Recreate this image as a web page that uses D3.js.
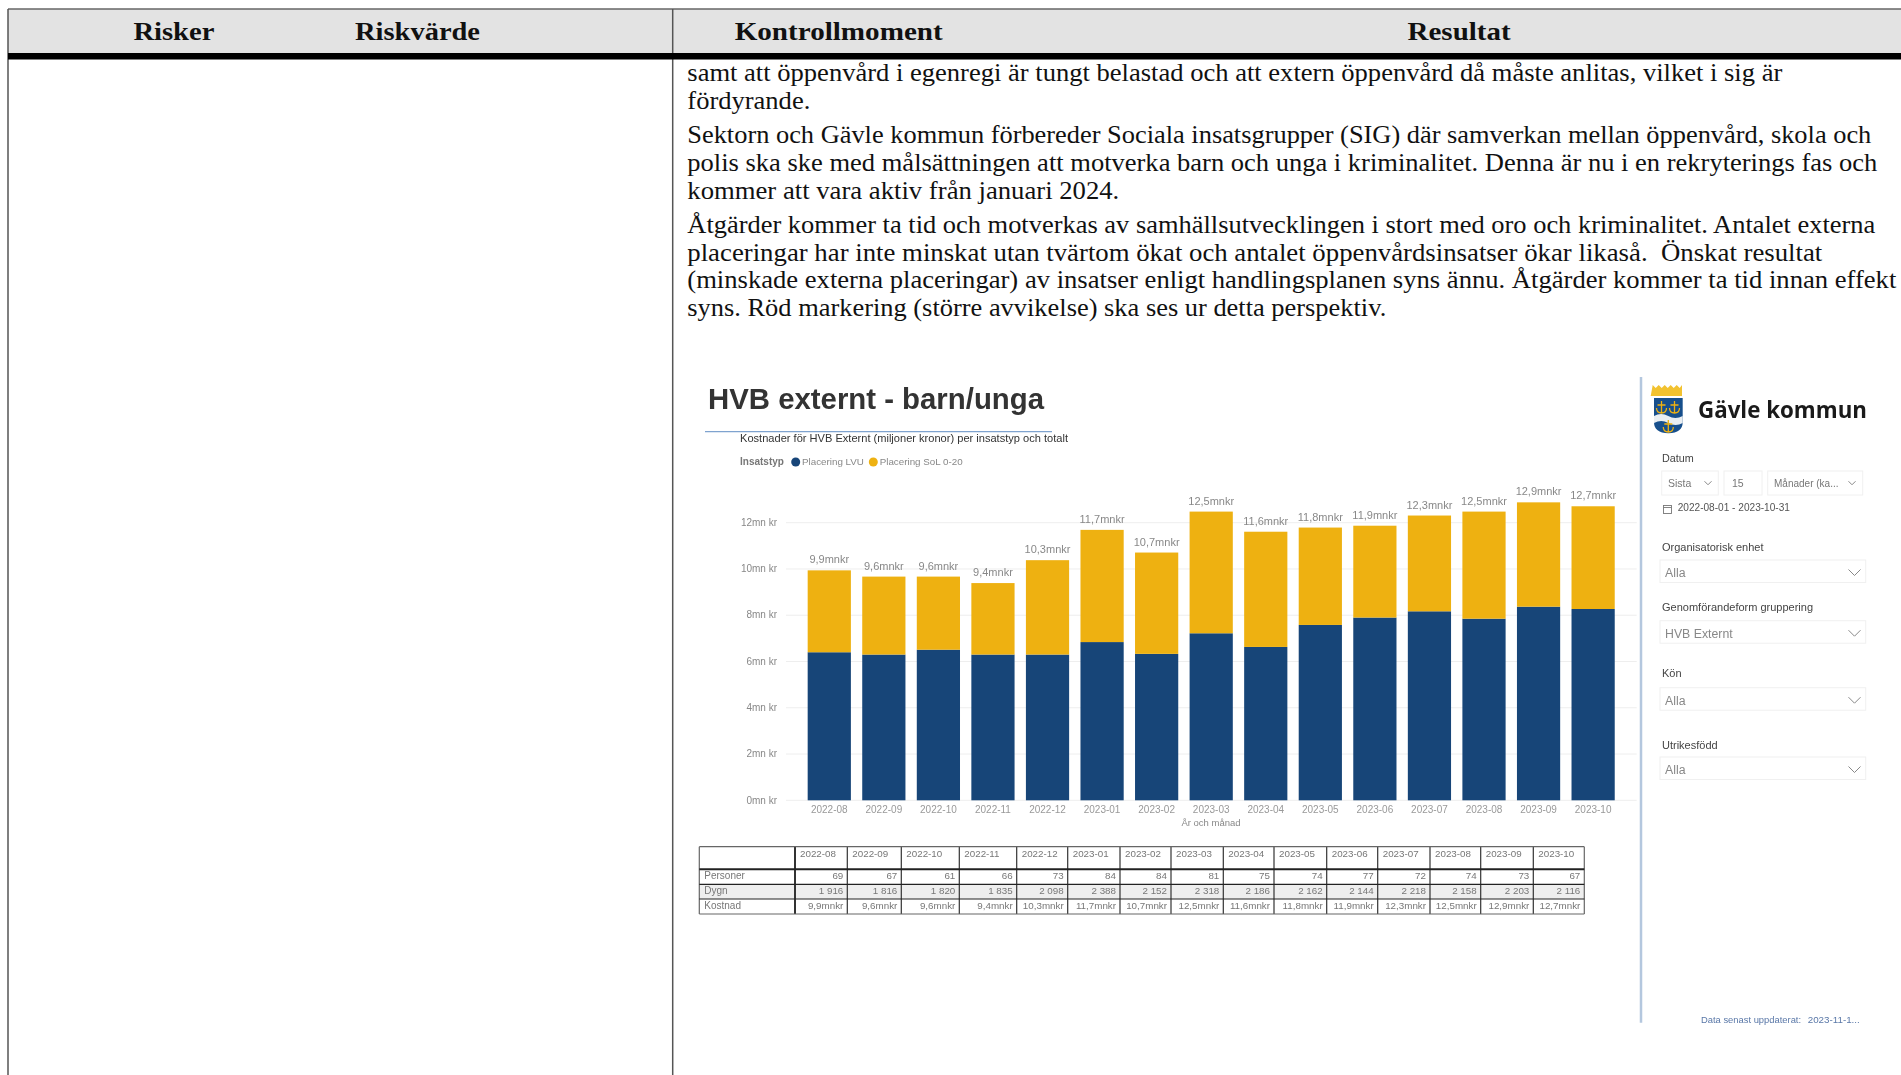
<!DOCTYPE html>
<html lang="sv">
<head>
<meta charset="utf-8">
<title>HVB externt - barn/unga</title>
<script src="https://d3js.org/d3.v7.min.js"></script>
<style>
  html, body { margin: 0; background: #fff; overflow: hidden; }
  svg { display: block; }
  text { white-space: pre; }
  .doc { font-family: "Liberation Serif", serif; fill: #111; }
  .embed text { font-family: "Liberation Sans", Arial, sans-serif; }
  .embed { filter: blur(0.65px); }
  .axis path { display: none; }
</style>
</head>
<body>
<div id="chart-area"></div>
<script>
// chart values
const months = ["2022-08", "2022-09", "2022-10", "2022-11", "2022-12", "2023-01", "2023-02", "2023-03",
    "2023-04", "2023-05", "2023-06", "2023-07", "2023-08", "2023-09", "2023-10"];
const placeringLVU = [6.40, 6.30, 6.51, 6.30, 6.30, 6.84, 6.33, 7.22, 6.63, 7.58, 7.90, 8.17, 7.85, 8.37, 8.27];
const placeringSoL = [3.54, 3.37, 3.16, 3.09, 4.08, 4.85, 4.38, 5.26, 4.98, 4.21, 3.97, 4.14, 4.63, 4.51, 4.44];
const kostnad = ["9,9mnkr", "9,6mnkr", "9,6mnkr", "9,4mnkr", "10,3mnkr", "11,7mnkr", "10,7mnkr", "12,5mnkr",
    "11,6mnkr", "11,8mnkr", "11,9mnkr", "12,3mnkr", "12,5mnkr", "12,9mnkr", "12,7mnkr"];
const personer = ["69", "67", "61", "66", "73", "84", "84", "81", "75", "74", "77", "72", "74", "73", "67"];
const dygn = ["1 916", "1 816", "1 820", "1 835", "2 098", "2 388", "2 152", "2 318", "2 186", "2 162",
    "2 144", "2 218", "2 158", "2 203", "2 116"];
const yTicks = [0, 2, 4, 6, 8, 10, 12];

// document text around the chart
const headers = ["Risker", "Riskvärde", "Kontrollmoment", "Resultat"];
const bodyLines = [
    "samt att öppenvård i egenregi är tungt belastad och att extern öppenvård då måste anlitas, vilket i sig är",
    "fördyrande.",
    "Sektorn och Gävle kommun förbereder Sociala insatsgrupper (SIG) där samverkan mellan öppenvård, skola och",
    "polis ska ske med målsättningen att motverka barn och unga i kriminalitet. Denna är nu i en rekryterings fas och",
    "kommer att vara aktiv från januari 2024.",
    "Åtgärder kommer ta tid och motverkas av samhällsutvecklingen i stort med oro och kriminalitet. Antalet externa",
    "placeringar har inte minskat utan tvärtom ökat och antalet öppenvårdsinsatser ökar likaså.  Önskat resultat",
    "(minskade externa placeringar) av insatser enligt handlingsplanen syns ännu. Åtgärder kommer ta tid innan effekt",
    "syns. Röd markering (större avvikelse) ska ses ur detta perspektiv."
];
const filterLabels = ["Organisatorisk enhet", "Genomförandeform gruppering", "Kön", "Utrikesfödd"];
const filterValues = ["Alla", "HVB Externt", "Alla", "Alla"];

// layout, separate from the values
const headerX = [133.4, 355, 734.7, 1407.6];
const headerW = [81, 125, 208, 103];
const bodyBase = [80.7, 109.3, 143.3, 170.7, 198.5, 233.3, 260.7, 288.3, 316];
const bodyW = [1095, 123, 1184, 1190, 432, 1188, 1135, 1209, 699];
const tableEdges = [699.3, 795, 847.3, 901.3, 959.3, 1016.7, 1067.7, 1120, 1171, 1223.3, 1274, 1326.7, 1377.7, 1430, 1480.7, 1533.3, 1584.3];
const filterTop = [560, 620.7, 687.7, 757];
const filterBase = [550.5, 611, 677.3, 748.8];

const svg = d3.select("#chart-area").append("svg")
    .attr("width", 1901)
    .attr("height", 1075);

svg.append("rect").attr("width", 1901).attr("height", 1075).attr("fill", "#fff");

/* the document table the picture sits in */
svg.append("rect").attr("x", 8).attr("y", 9).attr("width", 1893).attr("height", 44).attr("fill", "#e3e3e3");
svg.append("line").attr("x1", 8).attr("x2", 1901).attr("y1", 9).attr("y2", 9).attr("stroke", "#666").attr("stroke-width", 1.4);
[8, 672.7].forEach(x => {
    svg.append("line").attr("x1", x).attr("x2", x).attr("y1", 9).attr("y2", 1075).attr("stroke", "#555").attr("stroke-width", 1.5);
});
svg.append("rect").attr("x", 8).attr("y", 53).attr("width", 1893).attr("height", 6.5).attr("fill", "#000");

svg.selectAll(".head").data(headers).enter().append("text")
    .attr("class", "doc head")
    .attr("x", (d, i) => headerX[i])
    .attr("y", 40)
    .attr("font-size", 25)
    .attr("font-weight", "bold")
    .attr("textLength", (d, i) => headerW[i])
    .attr("lengthAdjust", "spacingAndGlyphs")
    .text(d => d);

svg.selectAll(".line").data(bodyLines).enter().append("text")
    .attr("class", "doc line")
    .attr("x", 687.3)
    .attr("y", (d, i) => bodyBase[i])
    .attr("font-size", 24.5)
    .attr("textLength", (d, i) => bodyW[i])
    .attr("lengthAdjust", "spacingAndGlyphs")
    .text(d => d);

/* the pasted report */
const embed = svg.append("g").attr("class", "embed");

embed.append("text").attr("x", 708).attr("y", 409).attr("font-size", 30).attr("font-weight", "bold")
    .attr("fill", "#333").attr("textLength", 336).attr("lengthAdjust", "spacingAndGlyphs")
    .text("HVB externt - barn/unga");
embed.append("line").attr("x1", 705).attr("x2", 1052).attr("y1", 431.7).attr("y2", 431.7)
    .attr("stroke", "#7fa3cf").attr("stroke-width", 1.3);
embed.append("text").attr("x", 740).attr("y", 442).attr("font-size", 11).attr("fill", "#333")
    .attr("textLength", 328).attr("lengthAdjust", "spacingAndGlyphs")
    .text("Kostnader för HVB Externt (miljoner kronor) per insatstyp och totalt");

// legend
embed.append("text").attr("x", 740).attr("y", 464.7).attr("font-size", 10).attr("font-weight", "bold")
    .attr("fill", "#777").text("Insatstyp");
embed.append("circle").attr("cx", 795.7).attr("cy", 462).attr("r", 4.5).attr("fill", "#174578");
embed.append("text").attr("x", 802).attr("y", 464.7).attr("font-size", 9.8).attr("fill", "#888").text("Placering LVU");
embed.append("circle").attr("cx", 873.3).attr("cy", 462).attr("r", 4.5).attr("fill", "#eeb111");
embed.append("text").attr("x", 879.7).attr("y", 464.7).attr("font-size", 9.8).attr("fill", "#888").text("Placering SoL 0-20");

// scales and axes
const y = d3.scaleLinear().domain([0, 12]).range([800.3, 522.7]);
const x = d3.scaleBand().domain(months).range([802, 1620.4]).paddingInner(0.208).paddingOuter(0.104);

const yAxis = d3.axisLeft(y).tickValues(yTicks).tickSize(0).tickPadding(9).tickFormat(d => d + "mn kr");
const xAxis = d3.axisBottom(x).tickSize(0).tickPadding(6);

const yG = embed.append("g").attr("class", "axis").attr("transform", "translate(786,-0.5)").call(yAxis);
yG.selectAll("text").attr("font-size", 10).attr("fill", "#888").attr("font-family", null);

embed.selectAll(".grid").data(yTicks).enter().append("line")
    .attr("x1", 786).attr("x2", 1636.7)
    .attr("y1", d => y(d)).attr("y2", d => y(d))
    .attr("stroke", "#eeeeee").attr("stroke-width", 1);

const stackRows = months.map((m, i) => ({ month: m, lvu: placeringLVU[i], sol: placeringSoL[i], label: kostnad[i] }));
const layers = d3.stack().keys(["lvu", "sol"])(stackRows);
const colors = { lvu: "#174578", sol: "#eeb111" };

embed.selectAll(".layer").data(layers).enter().append("g")
    .attr("fill", d => colors[d.key])
    .selectAll("rect").data(d => d).enter().append("rect")
    .attr("x", d => x(d.data.month))
    .attr("y", d => y(d[1]))
    .attr("width", x.bandwidth())
    .attr("height", d => y(d[0]) - y(d[1]));

embed.selectAll(".total").data(stackRows).enter().append("text")
    .attr("x", d => x(d.month) + x.bandwidth() / 2)
    .attr("y", d => y(d.lvu + d.sol) - 7)
    .attr("text-anchor", "middle")
    .attr("font-size", 11)
    .attr("fill", "#888")
    .text(d => d.label);

const xG = embed.append("g").attr("class", "axis").attr("transform", "translate(0,800.3)").call(xAxis);
xG.selectAll("text").attr("font-size", 10).attr("fill", "#999").attr("font-family", null);

embed.append("text").attr("x", 1211).attr("y", 825.7).attr("text-anchor", "middle").attr("font-size", 9.5)
    .attr("fill", "#888").text("År och månad");

/* the table under the chart */
const col = d3.scaleLinear().domain(d3.range(tableEdges.length)).range(tableEdges);
const rowLines = [846.7, 869.3, 884.3, 899, 914];
const tableRows = [
    { name: "Personer", values: personer, base: 879.3 },
    { name: "Dygn", values: dygn, base: 894.3 },
    { name: "Kostnad", values: kostnad, base: 909 }
];

embed.append("rect").attr("x", col(0)).attr("y", rowLines[2]).attr("width", col(16) - col(0))
    .attr("height", rowLines[3] - rowLines[2]).attr("fill", "#eeeeee");

embed.selectAll(".colLine").data(d3.range(17)).enter().append("line")
    .attr("x1", d => col(d)).attr("x2", d => col(d))
    .attr("y1", rowLines[0]).attr("y2", rowLines[4])
    .attr("stroke", d => (d === 0 || d === 16) ? "#666" : "#333")
    .attr("stroke-width", d => d === 1 ? 2 : 1.2);

embed.selectAll(".rowLine").data(rowLines).enter().append("line")
    .attr("x1", col(0)).attr("x2", col(16))
    .attr("y1", d => d).attr("y2", d => d)
    .attr("stroke", (d, i) => (i === 0 || i === 4) ? "#666" : "#222")
    .attr("stroke-width", (d, i) => i === 1 ? 2 : 1.2);

embed.selectAll(".colHead").data(months).enter().append("text")
    .attr("x", (d, i) => col(i + 1) + 5)
    .attr("y", 857)
    .attr("font-size", 9.8)
    .attr("fill", "#777")
    .text(d => d);

tableRows.forEach(row => {
    embed.append("text").attr("x", col(0) + 5).attr("y", row.base).attr("font-size", 10).attr("fill", "#777").text(row.name);
    embed.selectAll(".cell-" + row.name).data(row.values).enter().append("text")
        .attr("x", (d, i) => col(i + 2) - 4)
        .attr("y", row.base)
        .attr("text-anchor", "end")
        .attr("font-size", 9.8)
        .attr("fill", "#777")
        .text(d => d);
});

/* the filter panel on the right */
embed.append("line").attr("x1", 1641).attr("x2", 1641).attr("y1", 377).attr("y2", 1022.7)
    .attr("stroke", "#b4c7de").attr("stroke-width", 2.5);

function anchor(g, cx, cy) {
    g.append("path")
        .attr("d", `M${cx - 4},${cy} h8 M${cx},${cy - 4} v12 M${cx - 5},${cy + 3} q0,5 5,5 q5,0 5,-5`)
        .attr("fill", "none").attr("stroke", "#eeb111").attr("stroke-width", 1.3);
}
const logo = embed.append("g");
logo.append("path").attr("d", "M1652.7,385 l3,3 3,-3 3,3 3,-3 3,3 3,-3 3,3 3,-3 3,3 2.3,-3 v11 h-31.3 z").attr("fill", "#f2c230");
logo.append("path").attr("d", "M1654,398 h28.7 v24 q0,11 -14.3,11.3 q-14.4,-0.3 -14.4,-11.3 z").attr("fill", "#174f8c");
logo.append("path").attr("d", "M1654,416 q7,-4 14.3,0 q7,4 14.4,0 v7 q-7,4 -14.4,0 q-7,-4 -14.3,0 z").attr("fill", "#e9eef2");
anchor(logo, 1661.5, 405);
anchor(logo, 1674.5, 405);
anchor(logo, 1668.3, 424);

embed.append("text").attr("x", 1698).attr("y", 418).attr("font-size", 24).attr("font-weight", 700)
    .style("font-family", '"Open Sans", sans-serif').attr("fill", "#1a1a1a")
    .attr("textLength", 169).attr("lengthAdjust", "spacingAndGlyphs").text("Gävle kommun");

function box(bx, by, w, h) {
    embed.append("rect").attr("x", bx).attr("y", by).attr("width", w).attr("height", h)
        .attr("fill", "#fff").attr("stroke", "#f0f0f0").attr("stroke-width", 1);
}
function chevron(cx, cy, half) {
    embed.append("path").attr("d", `M${cx - half},${cy - half / 2} L${cx},${cy + half / 2} L${cx + half},${cy - half / 2}`)
        .attr("fill", "none").attr("stroke", "#888").attr("stroke-width", 1);
}
function label(tx, ty, txt, size, color) {
    embed.append("text").attr("x", tx).attr("y", ty).attr("font-size", size).attr("fill", color).text(txt);
}

label(1662, 462, "Datum", 10.8, "#444");
box(1661.7, 471, 56.6, 24);
box(1724, 471, 38, 24);
box(1767.7, 471, 95, 24);
label(1668, 486.7, "Sista", 10.5, "#777");
label(1732, 486.7, "15", 10.5, "#777");
label(1774, 486.7, "Månader (ka...", 10, "#777");
chevron(1708, 483, 3.5);
chevron(1852, 483, 3.5);

// calendar icon
embed.append("rect").attr("x", 1663.5).attr("y", 505.5).attr("width", 8).attr("height", 8).attr("fill", "none").attr("stroke", "#777").attr("stroke-width", 0.9);
embed.append("line").attr("x1", 1663.5).attr("x2", 1671.5).attr("y1", 507.5).attr("y2", 507.5).attr("stroke", "#777").attr("stroke-width", 0.9);
label(1677.7, 510.7, "2022-08-01 - 2023-10-31", 10.1, "#555");

filterLabels.forEach((name, i) => {
    const top = filterTop[i];
    label(1662, filterBase[i], name, 11, "#444");
    box(1660, top, 205.7, 22.5);
    label(1665, top + 17, filterValues[i], 12.3, "#888");
    chevron(1854.5, top + 12.5, 6);
});

label(1701, 1023, "Data senast uppdaterat:", 9.4, "#5a78a8");
label(1807.7, 1023, "2023-11-1...", 9.8, "#5a78a8");
</script>
</body>
</html>
